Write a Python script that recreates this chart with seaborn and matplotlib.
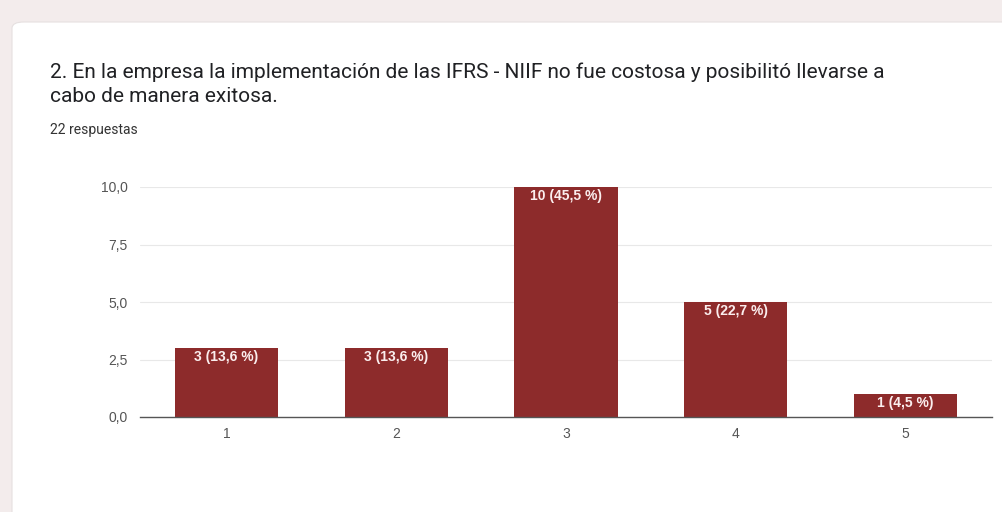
import pandas as pd
import matplotlib.pyplot as plt
import seaborn as sns
from matplotlib.patches import FancyBboxPatch

# Survey answers
categories = ['1', '2', '3', '4', '5']
counts = [3, 3, 10, 5, 1]
percents = ['13,6', '13,6', '45,5', '22,7', '4,5']
y_ticks = [0, 2.5, 5, 7.5, 10]
y_tick_labels = ['0,0', '2,5', '5,0', '7,5', '10,0']

df = pd.DataFrame({'respuesta': categories, 'cantidad': counts})

sns.set_style('white')
plt.rcParams['font.family'] = ['Roboto', 'DejaVu Sans']

fig = plt.figure(figsize=(10.02, 5.12), dpi=100, facecolor='#f3ecec')

# white card behind the chart
card = FancyBboxPatch((12 / 1002, -0.05), 1.1, 1 - 22 / 512 + 0.05,
                      boxstyle='round,pad=0,rounding_size=0.012',
                      transform=fig.transFigure, facecolor='white',
                      edgecolor='#e6e0e0', linewidth=0.8, zorder=-5)
fig.patches.append(card)

ax = fig.add_axes([140 / 1002, 1 - 417 / 512, 852 / 1002, 230 / 512])
ax.set_facecolor('none')
ax.set_zorder(2)

sns.barplot(data=df, x='respuesta', y='cantidad', color='#8d2b2b',
            width=0.61, saturation=1, ax=ax, zorder=3, linewidth=0)

ax.set_xlim(-0.51, 4.51)
ax.set_ylim(0, 10)
ax.set_yticks(y_ticks)
ax.set_yticklabels(y_tick_labels)
ax.yaxis.grid(True, color='#e8e8e8', linewidth=0.8, zorder=0)
for side in ['top', 'right', 'left']:
    ax.spines[side].set_visible(False)
ax.spines['bottom'].set_color('#555555')
ax.spines['bottom'].set_linewidth(1.0)
ax.spines['bottom'].set_zorder(4)
ax.tick_params(axis='both', length=0, labelsize=10, colors='#555555')
ax.tick_params(axis='y', pad=9)
ax.tick_params(axis='x', pad=7)
for lbl in ax.get_xticklabels() + ax.get_yticklabels():
    lbl.set_fontfamily('Liberation Sans')
ax.set_xlabel('')
ax.set_ylabel('')

for i, (c, p) in enumerate(zip(counts, percents)):
    ax.text(i, c - 0.1, f'{c} ({p} %)', ha='center', va='top',
            color='#fbeeee', fontsize=10, fontweight='bold',
            family='Liberation Sans', zorder=5)

fig.text(50 / 1002, 1 - 72 / 512,
         '2. En la empresa la implementación de las IFRS - NIIF no fue costosa y posibilitó llevarse a',
         fontsize=15, color='#202124', va='center', zorder=3)
fig.text(50 / 1002, 1 - 97 / 512, 'cabo de manera exitosa.',
         fontsize=15, color='#202124', va='center', zorder=3)
fig.text(50 / 1002, 1 - 130 / 512, '22 respuestas',
         fontsize=10, color='#333333', va='center', zorder=3)

fig.savefig('out.png', dpi=100, facecolor=fig.get_facecolor())
